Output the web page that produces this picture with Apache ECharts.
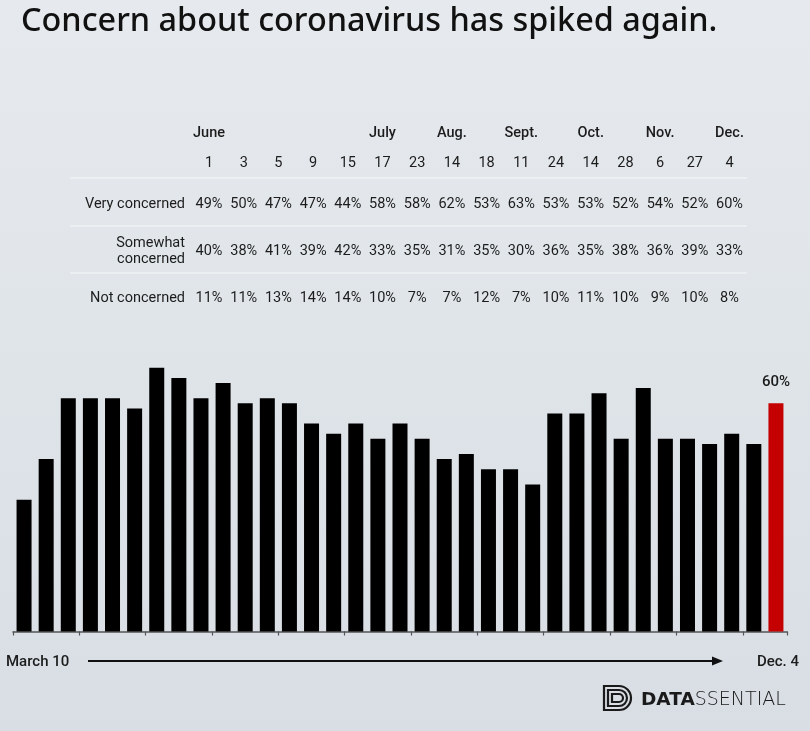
<!DOCTYPE html>
<html>
<head>
<meta charset="utf-8">
<script src="https://cdn.jsdelivr.net/npm/echarts@6/dist/echarts.min.js"></script>
<style>
html,body{margin:0;padding:0;}
#chart{width:810px;height:731px;}
</style>
</head>
<body>
<div id="chart"></div>
<script>
// ---- Data ----
var barCategories = ['Mar 10','S2','S3','S4','S5','S6','S7','S8','S9','S10','S11','S12','S13','S14','S15','S16','S17','S18','S19',
  'June 1','June 3','June 5','June 9','June 15','July 17','July 23','Aug 14','Aug 18','Sept 11','Sept 24','Oct 14','Oct 28','Nov 6','Nov 27','Dec 4'];
var barValues = [41,49,61,61,61,59,67,65,61,64,60,61,60,56,54,56,53,56,53,
  49,50,47,47,44,58,58,62,53,63,53,53,52,54,52,60];

var tableMonths = ['June','','','','','July','','Aug.','','Sept.','','Oct.','','Nov.','','Dec.'];
var tableDays = ['1','3','5','9','15','17','23','14','18','11','24','14','28','6','27','4'];
var rowLabels = ['Very concerned','Somewhat\nconcerned','Not concerned'];
var veryConcerned = [49,50,47,47,44,58,58,62,53,63,53,53,52,54,52,60];
var somewhatConcerned = [40,38,41,39,42,33,35,31,35,30,36,35,38,36,39,33];
var notConcerned = [11,11,13,14,14,10,7,7,12,7,10,11,10,9,10,8];
var startLabel = 'March 10';
var endLabel = 'Dec. 4';

// ---- Build ----
var FONT = 'Roboto, "Noto Sans", sans-serif';
var TXT = '#1c1c1c';
var colX0 = 209, colStep = 34.7;
var rowY = {month:133, day:163, very:204, some:251, not:298};
var graphics = [];

graphics.push({type:'text', x:21, y:22, style:{text:'Concern about coronavirus has spiked again.', font:'500 32.4px "Noto Sans", Roboto, sans-serif', fill:'#111', verticalAlign:'middle'}});

function addRow(arr, y, fmt, weight){
  arr.forEach(function(v,i){
    if (v === '' ) return;
    graphics.push({type:'text', x:colX0+i*colStep, y:y, style:{text:fmt(v), font:(weight||'400')+' 14.5px '+FONT, fill:TXT, align:'center', verticalAlign:'middle'}});
  });
}
addRow(tableMonths, rowY.month, function(v){return v;}, '500');
addRow(tableDays, rowY.day, function(v){return v;});
addRow(veryConcerned, rowY.very, function(v){return v+'%';});
addRow(somewhatConcerned, rowY.some, function(v){return v+'%';});
addRow(notConcerned, rowY.not, function(v){return v+'%';});

[rowY.very, rowY.some, rowY.not].forEach(function(y,i){
  graphics.push({type:'text', x:185, y:y, style:{text:rowLabels[i], font:'400 14.5px '+FONT, fill:TXT, align:'right', verticalAlign:'middle', lineHeight:16}});
});
[178,226,273].forEach(function(y){
  graphics.push({type:'line', shape:{x1:70,y1:y,x2:747,y2:y}, style:{stroke:'rgba(255,255,255,0.75)', lineWidth:1}});
});

// bottom arrow
graphics.push({type:'text', x:6, y:662, style:{text:startLabel, font:'500 15px '+FONT, fill:TXT, verticalAlign:'middle'}});
graphics.push({type:'text', x:799, y:662, style:{text:endLabel, font:'500 15px '+FONT, fill:TXT, align:'right', verticalAlign:'middle'}});
graphics.push({type:'line', shape:{x1:88,y1:661,x2:716,y2:661}, style:{stroke:'#111', lineWidth:2}});
graphics.push({type:'polygon', shape:{points:[[723,661],[712,656.5],[712,665.5]]}, style:{fill:'#111'}});

// logo (nested D outlines)
var lx = 604, ly = 686;
[[0,0,27,24],[4,4,19,16],[8,8,11,8]].forEach(function(d){
  var x=lx+d[0], y=ly+d[1], w=d[2], h=d[3], r=h/2, cx=x+w-r;
  var st = {stroke:'#1a1a1a', lineWidth:2.2, fill:'none'};
  graphics.push({type:'polyline', shape:{points:[[cx,y],[x,y],[x,y+h],[cx,y+h]]}, style:st});
  graphics.push({type:'arc', shape:{cx:cx, cy:y+r, r:r, startAngle:-Math.PI/2, endAngle:Math.PI/2, clockwise:true}, style:st});
});
graphics.push({type:'text', x:641, y:700, style:{rich:{b:{font:'700 18.5px "DejaVu Sans", sans-serif', fill:'#1a1a1a'}, t:{font:'200 19px "DejaVu Sans", sans-serif', fill:'#1a1a1a'}}, text:'{b|DATA}{t|SSENTIAL}', verticalAlign:'middle'}});

var lastIdx = barValues.length - 1;
var chart = echarts.init(document.getElementById('chart'));
chart.setOption({
  animation:false,
  backgroundColor:{type:'linear', x:0, y:0, x2:0, y2:1, colorStops:[{offset:0,color:'#e6eaee'},{offset:1,color:'#d8dee4'}]},
  grid:{left:13, right:23, top:352.6, bottom:99.5},
  xAxis:{type:'category', data:barCategories, boundaryGap:true,
    axisLine:{lineStyle:{color:'#555', width:1.5}},
    axisTick:{show:true, length:4, lineStyle:{color:'#555', width:1.2}},
    axisLabel:{show:false}},
  yAxis:{type:'value', min:15, max:70, show:false, splitLine:{show:false}},
  series:[{type:'bar', barWidth:15,
    data:barValues.map(function(v,i){
      return i===lastIdx ? {value:v, itemStyle:{color:'#c40000'}, label:{show:true, position:'top', distance:14, formatter:'{c}%', fontFamily:'Roboto', fontWeight:500, fontSize:15, color:'#1a1a1a'}} : {value:v};
    }),
    itemStyle:{color:'#000'}}],
  graphic:graphics
});
</script>
</body>
</html>
